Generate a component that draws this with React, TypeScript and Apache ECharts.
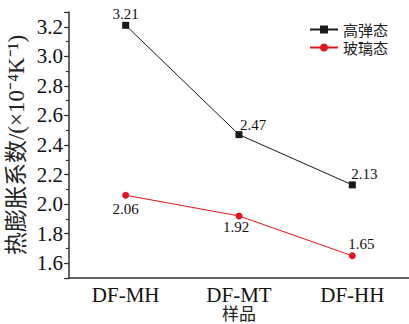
import React, { useEffect, useRef } from "react";
import * as echarts from "echarts";

const categories = ["DF-MH", "DF-MT", "DF-HH"];
const rubberyValues = [3.21, 2.47, 2.13];
const glassyValues = [2.06, 1.92, 1.65];
const seriesNames = ["高弹态", "玻璃态"];
const yAxisName = "热膨胀系数/(×10⁻⁴K⁻¹)";
const xAxisName = "样品";

const rubberyLabel: { off: [number, number]; dist: number }[] = [
  { off: [0, 0], dist: 0 },
  { off: [14, 0], dist: -1 },
  { off: [12, 0], dist: 0 },
];
const glassyLabel: { pos: string; off: [number, number]; dist: number }[] = [
  { pos: "bottom", off: [0, 0], dist: 3 },
  { pos: "bottom", off: [-3, 0], dist: 0 },
  { pos: "top", off: [9, 0], dist: 1 },
];

const FONT = "Liberation Serif";
const CJK = "Noto Sans CJK SC";

export default function App() {
  const ref = useRef<HTMLDivElement>(null);
  useEffect(() => {
    if (!ref.current) return;
    const chart = echarts.init(ref.current, undefined, { renderer: "svg" });
    const fmt = (v: number) => {
      if (Math.abs(v - 1.5) < 1e-6 || Math.abs(v - 3.3) < 1e-6) return "";
      return v.toFixed(1);
    };
    chart.setOption({
      animation: false,
      backgroundColor: "#ffffff",
      grid: {
        left: 69,
        right: 0,
        top: 12,
        bottom: 46,
        containLabel: false,
        outerBoundsMode: "none",
      },
      legend: {
        left: 309,
        top: 22,
        padding: 0,
        orient: "vertical",
        itemWidth: 28,
        itemHeight: 10,
        itemGap: 3,
        textStyle: { fontFamily: CJK, fontSize: 15, lineHeight: 15, color: "#222" },
        data: seriesNames,
      },
      xAxis: {
        type: "category",
        data: categories,
        boundaryGap: true,
        name: xAxisName,
        nameLocation: "middle",
        nameGap: 26,
        nameMoveOverlap: false,
        nameTextStyle: { fontFamily: CJK, fontSize: 17, lineHeight: 17, color: "#222" },
        axisLine: { lineStyle: { color: "#333", width: 1.5 } },
        axisTick: { alignWithLabel: true, length: 5, lineStyle: { color: "#333", width: 1.2 } },
        axisLabel: { fontFamily: FONT, fontSize: 21, color: "#111", margin: 6 },
        splitLine: { show: false },
      },
      yAxis: [
        {
          type: "value",
          min: 1.5,
          max: 3.3,
          splitNumber: 9,
          name: yAxisName,
          nameLocation: "middle",
          nameGap: 41,
          nameMoveOverlap: false,
          nameRotate: 90,
          nameTextStyle: { fontFamily: FONT + ", " + CJK, fontSize: 23, color: "#222" },
          axisLine: { show: true, lineStyle: { color: "#333", width: 1.5 } },
          axisTick: { show: true, length: 5, lineStyle: { color: "#333", width: 1.2 } },
          axisLabel: { fontFamily: FONT, fontSize: 21, color: "#111", margin: 6, formatter: fmt },
          splitLine: { show: false },
        },
        {
          type: "value",
          min: 1.5,
          max: 3.3,
          interval: 0.1,
          position: "left",
          axisLine: { show: false },
          axisTick: { show: true, length: 3, lineStyle: { color: "#333", width: 1.2 } },
          axisLabel: { show: false },
          splitLine: { show: false },
        },
      ],
      series: [
        {
          name: seriesNames[0],
          type: "line",
          yAxisIndex: 0,
          data: rubberyValues.map((v, i) => ({
            value: v,
            label: { position: "top", offset: rubberyLabel[i].off, distance: rubberyLabel[i].dist },
          })),
          symbol: "rect",
          symbolSize: 7,
          itemStyle: { color: "#1a1a1a" },
          lineStyle: { color: "#1a1a1a", width: 1 },
          label: {
            show: true,
            fontFamily: FONT,
            fontSize: 15,
            color: "#111",
            formatter: (p: any) => p.value.toFixed(2),
          },
        },
        {
          name: seriesNames[1],
          type: "line",
          yAxisIndex: 0,
          data: glassyValues.map((v, i) => ({
            value: v,
            label: {
              position: glassyLabel[i].pos,
              offset: glassyLabel[i].off,
              distance: glassyLabel[i].dist,
            },
          })),
          symbol: "circle",
          symbolSize: 7,
          itemStyle: { color: "#e3141b" },
          lineStyle: { color: "#e3141b", width: 1 },
          label: {
            show: true,
            fontFamily: FONT,
            fontSize: 15,
            color: "#111",
            formatter: (p: any) => p.value.toFixed(2),
          },
        },
      ],
    });
    return () => chart.dispose();
  }, []);
  return (
    <div
      ref={ref}
      style={{ position: "fixed", left: 0, top: 0, width: 409, height: 324 }}
    />
  );
}
